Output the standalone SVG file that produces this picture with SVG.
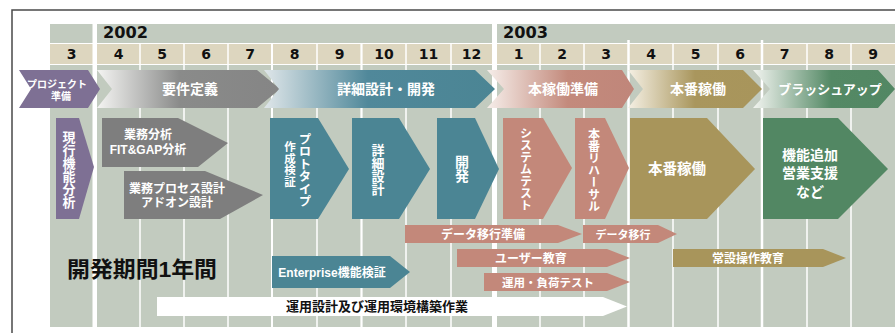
<svg xmlns="http://www.w3.org/2000/svg" width="895" height="333" viewBox="0 0 895 333">
<style>
.bg{fill:#c2cbbf}
.mon{fill:#ddd6bf}
.vl{stroke:#ffffff;stroke-width:1.5}
.gap{fill:#ffffff}
.yr{font-family:"DejaVu Sans","Liberation Sans",sans-serif;font-weight:bold;font-size:16px;fill:#111}
.mn{font-family:"DejaVu Sans","Liberation Sans",sans-serif;font-weight:bold;font-size:14px;fill:#111;text-anchor:middle}
.jp{font-family:"Liberation Sans","Noto Sans CJK JP",sans-serif;font-weight:bold;fill:#fff;text-anchor:middle}
.vt{font-family:"Noto Sans CJK JP",sans-serif;font-weight:bold;fill:#fff;text-anchor:middle;writing-mode:vertical-rl}
.purple{fill:#7e7094}
.gray{fill:#7e7e7e}
.teal{fill:#4b8594}
.pink{fill:#c3887a}
.olive{fill:#a8955b}
.green{fill:#528763}
</style>
<defs>
<linearGradient id="gGray" x1="0" y1="0" x2="1" y2="0"><stop offset="0" stop-color="#f4f4f2"/><stop offset="0.45" stop-color="#8a8b8a"/><stop offset="1" stop-color="#858585"/></linearGradient>
<linearGradient id="gTeal" x1="0" y1="0" x2="1" y2="0"><stop offset="0" stop-color="#dfe6e9"/><stop offset="0.45" stop-color="#50889a"/><stop offset="1" stop-color="#4b8594"/></linearGradient>
<linearGradient id="gPink" x1="0" y1="0" x2="1" y2="0"><stop offset="0" stop-color="#f6eeea"/><stop offset="0.55" stop-color="#c38a7c"/><stop offset="1" stop-color="#c0867a"/></linearGradient>
<linearGradient id="gOlive" x1="0" y1="0" x2="1" y2="0"><stop offset="0" stop-color="#f5f0e4"/><stop offset="0.5" stop-color="#a9965d"/><stop offset="1" stop-color="#a8955b"/></linearGradient>
<linearGradient id="gGreen" x1="0" y1="0" x2="1" y2="0"><stop offset="0" stop-color="#f2f4f0"/><stop offset="0.55" stop-color="#548965"/><stop offset="1" stop-color="#528763"/></linearGradient>
</defs>
<rect x="0" y="0" width="895" height="333" fill="#ffffff"/>
<g id="frame"><path d="M12,333 V10 H895" fill="none" stroke="#4a4a4a" stroke-width="1.5"/></g>
<g id="grid">
<rect class="bg" x="50" y="24" width="845" height="303"/>
<rect class="mon" x="50" y="44" width="845" height="20"/>
<line x1="50" y1="43.5" x2="895" y2="43.5" stroke="#fff" stroke-width="1"/>
<line x1="50" y1="64.5" x2="895" y2="64.5" stroke="#fff" stroke-width="1"/>
<rect class="gap" x="92.5" y="24" width="4.5" height="303"/>
<rect class="gap" x="492" y="24" width="5" height="303"/>
<g class="vl">
<line x1="140" y1="43" x2="140" y2="327"/><line x1="184" y1="43" x2="184" y2="327"/><line x1="228" y1="43" x2="228" y2="327"/>
<line x1="272" y1="43" x2="272" y2="327" stroke-width="2"/><line x1="317" y1="43" x2="317" y2="327"/><line x1="361.5" y1="43" x2="361.5" y2="327" stroke-width="2.2"/>
<line x1="406" y1="43" x2="406" y2="327"/><line x1="451" y1="43" x2="451" y2="327"/>
<line x1="540" y1="43" x2="540" y2="327"/><line x1="584" y1="43" x2="584" y2="327"/><line x1="628.5" y1="40" x2="628.5" y2="327" stroke-width="2.5"/>
<line x1="673" y1="43" x2="673" y2="327"/><line x1="718" y1="43" x2="718" y2="327"/><line x1="762" y1="40" x2="762" y2="327" stroke-width="2.5"/>
<line x1="807" y1="43" x2="807" y2="327"/><line x1="851" y1="43" x2="851" y2="327"/>
</g>
<text class="yr" x="103" y="38" textLength="45" lengthAdjust="spacingAndGlyphs">2002</text>
<text class="yr" x="503" y="38" textLength="45" lengthAdjust="spacingAndGlyphs">2003</text>
<text class="mn" x="71.5" y="59">3</text><text class="mn" x="118.5" y="59">4</text><text class="mn" x="162" y="59">5</text><text class="mn" x="206" y="59">6</text><text class="mn" x="250" y="59">7</text><text class="mn" x="294.5" y="59">8</text><text class="mn" x="339.5" y="59">9</text><text class="mn" x="384" y="59">10</text><text class="mn" x="428.5" y="59">11</text><text class="mn" x="471.5" y="59">12</text>
<text class="mn" x="518.5" y="59">1</text><text class="mn" x="562" y="59">2</text><text class="mn" x="606" y="59">3</text><text class="mn" x="651" y="59">4</text><text class="mn" x="695.5" y="59">5</text><text class="mn" x="740" y="59">6</text><text class="mn" x="784.5" y="59">7</text><text class="mn" x="829" y="59">8</text><text class="mn" x="873" y="59">9</text>
</g>
<g id="connectors"></g>
<g id="phase-project-prep"><polygon class="purple" points="19,70 88,70 100,89 88,108 19,108 31,89"/><text class="jp" x="57" y="88" font-size="10">プロジェクト</text><text class="jp" x="61" y="100" font-size="10">準備</text></g>
<g id="phase-requirements"><polygon fill="url(#gGray)" points="97,70 257,70 280,89 257,108 97,108 112,89"/><text class="jp" x="190" y="94" font-size="14">要件定義</text></g>
<g id="phase-design-dev"><polygon fill="url(#gTeal)" points="264,70 475,70 495,89 475,108 264,108 279,89"/><text class="jp" x="386" y="94" font-size="14">詳細設計・開発</text></g>
<g id="phase-prep"><polygon fill="url(#gPink)" points="487,70 622,70 634,89 622,108 487,108 504,89"/><text class="jp" x="563" y="94" font-size="14">本稼働準備</text></g>
<g id="phase-production"><polygon fill="url(#gOlive)" points="628,70 743,70 762,89 743,108 628,108 643,89"/><text class="jp" x="698" y="94" font-size="14">本番稼働</text></g>
<g id="phase-brushup"><polygon fill="url(#gGreen)" points="753,70 878,70 895,89 878,108 753,108 770,89"/><text class="jp" x="830" y="94" font-size="13">ブラッシュアップ</text></g>
<g id="task-current-analysis"><polygon class="purple" points="56,118 79,118 94,167 79,219 56,219"/><text class="vt" x="69" y="170" font-size="13">現行機能分析</text></g>
<g id="task-fitgap"><polygon class="gray" points="102,118 178,118 228,143 198,167 102,167"/><text class="jp" x="148" y="139" font-size="12">業務分析</text><text class="jp" x="148" y="154" font-size="12">FIT&amp;GAP分析</text></g>
<g id="task-process-design"><polygon class="gray" points="124,171 205,171 263,195 220,219 124,219"/><text class="jp" x="177" y="193" font-size="12">業務プロセス設計</text><text class="jp" x="177" y="207" font-size="12">アドオン設計</text></g>
<g id="task-prototype"><polygon class="teal" points="270,118 318,118 349,169 318,219 270,219"/><text class="vt" x="305" y="170" font-size="12.5">プロトタイプ</text><text class="vt" x="290" y="164" font-size="11.5">作成検証</text></g>
<g id="task-detail-design"><polygon class="teal" points="352,118 399,118 430,169 399,219 352,219"/><text class="vt" x="378" y="170" font-size="13">詳細設計</text></g>
<g id="task-development"><polygon class="teal" points="437,118 475,118 499,169 475,219 437,219"/><text class="vt" x="462" y="169" font-size="14">開発</text></g>
<g id="task-system-test"><polygon class="pink" points="503,118 543,118 572,168 543,219 503,219"/><text class="vt" x="526" y="169" font-size="12">システムテスト</text></g>
<g id="task-rehearsal"><polygon class="pink" points="575,118 605,118 629,168 605,219 575,219"/><text class="vt" x="594" y="170" font-size="12">本番リハーサル</text></g>
<g id="task-production"><polygon class="olive" points="630,118 707,118 755,169 707,219 630,219"/><text class="jp" x="677" y="174" font-size="14.5">本番稼働</text></g>
<g id="task-enhancement"><polygon class="green" points="763,118 838,118 888,169 838,219 763,219"/><text class="jp" x="810" y="160" font-size="14">機能追加</text><text class="jp" x="810" y="178" font-size="14">営業支援</text><text class="jp" x="810" y="197" font-size="14">など</text></g>
<g id="task-data-prep"><polygon class="pink" points="405,225 558,225 582,234 558,243 405,243"/><text class="jp" x="483" y="238.5" font-size="12">データ移行準備</text></g>
<g id="task-data-migration"><polygon class="pink" points="583,225 658,225 677,234 658,243 583,243"/><text class="jp" x="623" y="238.5" font-size="11">データ移行</text></g>
<g id="task-user-training"><polygon class="pink" points="457,249 607,249 630,258 607,267 457,267"/><text class="jp" x="531" y="262.5" font-size="12">ユーザー教育</text></g>
<g id="task-load-test"><polygon class="pink" points="484,273 607,273 630,282 607,291 484,291"/><text class="jp" x="548" y="286.5" font-size="11.5">運用・負荷テスト</text></g>
<g id="task-op-training"><polygon class="olive" points="673,249 823,249 846,258 823,267 673,267"/><text class="jp" x="748" y="262.5" font-size="12">常設操作教育</text></g>
<g id="task-enterprise"><polygon class="teal" points="272,256 390,256 410,272 390,288 272,288"/><text class="jp" x="332" y="276.5" font-size="12">Enterprise機能検証</text></g>
<g id="task-operations"><polygon fill="#ffffff" points="157,297 603,297 627,306.5 603,316 157,316"/><text class="jp" x="377" y="311" font-size="13" style="fill:#111">運用設計及び運用環境構築作業</text></g>
<g id="label-period"><text x="67" y="277" font-family="Liberation Sans,Noto Sans CJK JP,sans-serif" font-weight="bold" font-size="22" fill="#111" textLength="150" lengthAdjust="spacingAndGlyphs">開発期間1年間</text></g>
</svg>
